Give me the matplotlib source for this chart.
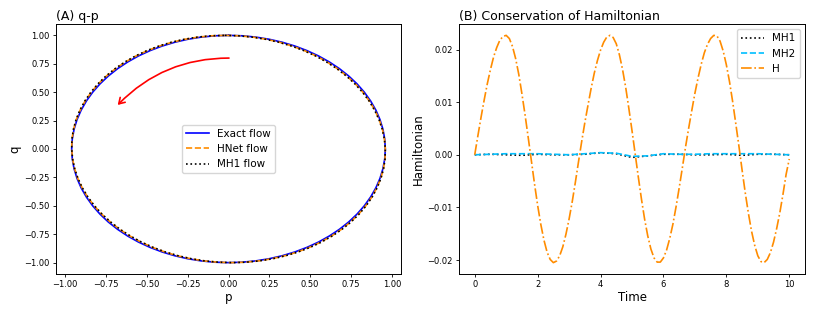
import numpy as np
import matplotlib
matplotlib.use('Agg')
import matplotlib.pyplot as plt
from matplotlib.patches import FancyArrowPatch

# ---------------- (A) q-p : points ----------------
# half orbit (q from 1 down to -1 through p > 0), the other half is point-symmetric
exact_p = [0.0, 0.0837, 0.1667, 0.2484, 0.3283, 0.4057, 0.48, 0.5507, 0.6171, 0.6788,
           0.7354, 0.7864, 0.8314, 0.87, 0.9021, 0.9273, 0.9454, 0.9564, 0.96,
           0.9564, 0.9454, 0.9273, 0.9021, 0.87, 0.8314, 0.7864, 0.7354, 0.6788,
           0.6171, 0.5507, 0.48, 0.4057, 0.3283, 0.2484, 0.1667, 0.0837, 0.0]
exact_q = [1.0, 0.9962, 0.9848, 0.9659, 0.9397, 0.9063, 0.866, 0.8192, 0.766, 0.7071,
           0.6428, 0.5736, 0.5, 0.4226, 0.342, 0.2588, 0.1736, 0.0872, 0.0,
           -0.0872, -0.1736, -0.2588, -0.342, -0.4226, -0.5, -0.5736, -0.6428, -0.7071,
           -0.766, -0.8192, -0.866, -0.9063, -0.9397, -0.9659, -0.9848, -0.9962, -1.0]

hnet_p = [-0.018, 0.0658, 0.149, 0.231, 0.3114, 0.3894, 0.4644, 0.536, 0.6033, 0.6661,
          0.7238, 0.7761, 0.8224, 0.8624, 0.8959, 0.9226, 0.9423, 0.9548, 0.96,
          0.958, 0.9485, 0.932, 0.9083, 0.8776, 0.8404, 0.7967, 0.747, 0.6915,
          0.6309, 0.5654, 0.4956, 0.422, 0.3452, 0.2658, 0.1844, 0.1016, 0.018]
hnet_q = exact_q

mh1_p = [-0.022, 0.0618, 0.1451, 0.2271, 0.3076, 0.3858, 0.4609, 0.5327, 0.6002, 0.6633,
         0.7212, 0.7738, 0.8204, 0.8607, 0.8945, 0.9216, 0.9416, 0.9545, 0.96,
         0.9583, 0.9492, 0.933, 0.9097, 0.8793, 0.8424, 0.799, 0.7496, 0.6943,
         0.634, 0.5687, 0.4991, 0.4256, 0.3489, 0.2697, 0.1883, 0.1056, 0.022]
mh1_q = exact_q

# ---------------- (B) Hamiltonian vs time ----------------
t_h = np.round(np.arange(0, 10.001, 0.1), 2)
H = [0.0, 0.0036, 0.0071, 0.0104, 0.0135, 0.0162, 0.0186, 0.0204, 0.0218, 0.0225,
     0.0227, 0.0221, 0.0206, 0.0183, 0.0153, 0.0116, 0.0076, 0.0033, -0.0011, -0.0055,
     -0.0096, -0.0132, -0.0162, -0.0185, -0.0199, -0.0205, -0.0202, -0.0192, -0.0175, -0.0151,
     -0.0122, -0.0089, -0.0052, -0.0013, 0.0025, 0.0061, 0.0094, 0.0126, 0.0155, 0.0179,
     0.0199, 0.0214, 0.0224, 0.0227, 0.0223, 0.0211, 0.0190, 0.0162, 0.0128, 0.0088,
     0.0046, 0.0002, -0.0042, -0.0084, -0.0122, -0.0154, -0.0179, -0.0196, -0.0204, -0.0204,
     -0.0196, -0.0181, -0.0159, -0.0132, -0.0099, -0.0063, -0.0025, 0.0014, 0.0050, 0.0084,
     0.0117, 0.0146, 0.0172, 0.0194, 0.0210, 0.0221, 0.0227, 0.0226, 0.0216, 0.0197,
     0.0171, 0.0139, 0.0101, 0.0059, 0.0016, -0.0029, -0.0072, -0.0111, -0.0145, -0.0172,
     -0.0192, -0.0203, -0.0205, -0.0199, -0.0186, -0.0166, -0.0140, -0.0110, -0.0075, -0.0037,
     -0.0008]

t_mh = np.round(np.arange(0, 10.01, 0.5), 2)
MH1 = [0.0, 0.0001, 0.0, -0.0001, 0.0001, 0.0, 0.0, 0.0001, 0.0004, 0.0002, -0.0005,
       -0.0002, 0.0001, 0.0001, 0.0, 0.0, 0.0001, -0.0001, 0.0001, 0.0001, 0.0]
MH2 = [0.0, 0.0001, 0.0002, 0.0002, 0.0002, 0.0001, 0.0, 0.0002, 0.0004, 0.0003, -0.0003,
       -0.0002, 0.0002, 0.0001, 0.0001, 0.0002, 0.0002, 0.0002, 0.0002, 0.0001, 0.0]


def full_orbit(p_half, q_half):
    # close the orbit with the point-symmetric half
    p = np.array(p_half)
    q = np.array(q_half)
    return np.concatenate([p, -p[1:]]), np.concatenate([q, -q[1:]])


fig = plt.figure(figsize=(8.14, 3.13), dpi=100)
ax1 = fig.add_axes([56/814, 1-274/313, 345/814, 250/313])
ax2 = fig.add_axes([459/814, 1-274/313, 346/814, 250/313])

# ------------------------- panel A -------------------------
ax1.plot(*full_orbit(exact_p, exact_q), color='blue', lw=1.2, label='Exact flow')
ax1.plot(*full_orbit(hnet_p, hnet_q), color='darkorange', lw=1.2, ls='--', label='HNet flow')
ax1.plot(*full_orbit(mh1_p, mh1_q), color='black', lw=1.2, ls=':', label='MH1 flow')
arrow = FancyArrowPatch((0.02, 0.8), (-0.69, 0.37), connectionstyle='arc3,rad=0.22',
                        arrowstyle='->,head_length=4,head_width=2.5', color='red', lw=1.2)
ax1.add_patch(arrow)
ax1.set_xticks(np.arange(-1, 1.01, 0.25))
ax1.set_yticks(np.arange(-1, 1.01, 0.25))
ax1.tick_params(labelsize=6, length=2.5, width=0.6, pad=2)
ax1.set_xlabel('p', fontsize=8.5, labelpad=1)
ax1.set_ylabel('q', fontsize=8.5, labelpad=2)
ax1.set_title('(A) q-p', fontsize=9, loc='left', pad=3)
ax1.legend(loc='center', fontsize=7.5, handlelength=2.2)

# ------------------------- panel B -------------------------
ax2.plot(t_mh, MH1, color='black', lw=1.2, ls=':', label='MH1')
ax2.plot(t_mh, MH2, color='deepskyblue', lw=1.2, ls='--', label='MH2')
ax2.plot(t_h, H, color='darkorange', lw=1.2, ls='-.', label='H')
ax2.set_yticks([-0.02, -0.01, 0.0, 0.01, 0.02])
ax2.set_xticks([0, 2, 4, 6, 8, 10])
ax2.tick_params(labelsize=6, length=2.5, width=0.6, pad=2)
ax2.set_xlabel('Time', fontsize=8.5, labelpad=1)
ax2.set_ylabel('Hamiltonian', fontsize=8.5, labelpad=2)
ax2.set_title('(B) Conservation of Hamiltonian', fontsize=9, loc='left', pad=3)
ax2.legend(loc='upper right', fontsize=7.5, handlelength=2.2)

for ax in (ax1, ax2):
    for s in ax.spines.values():
        s.set_linewidth(0.7)

fig.savefig('out.png', dpi=100)
